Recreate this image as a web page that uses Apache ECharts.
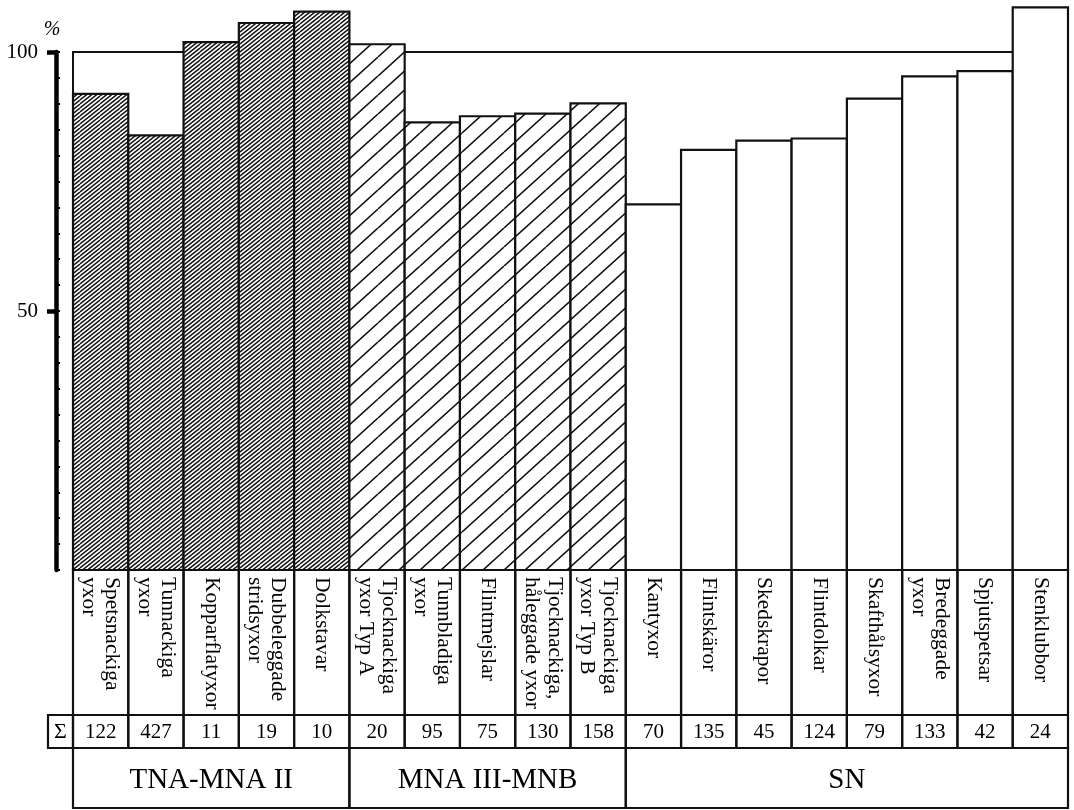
<!DOCTYPE html>
<html><head><meta charset="utf-8">
<script src="https://cdn.jsdelivr.net/npm/echarts@6/dist/echarts.min.js"></script>
<style>html,body{margin:0;padding:0;background:#fff}#c{width:1074px;height:810px}</style>
</head><body><div id="c"></div>
<script>
// ---- data ----
const categories = [
  'Spetsnackiga\nyxor', 'Tunnackiga\nyxor', 'Kopparflatyxor', 'Dubbeleggade\nstridsyxor', 'Dolkstavar',
  'Tjocknackiga\nyxor Typ A', 'Tunnbladiga\nyxor', 'Flintmejslar', 'Tjocknackiga,\nhåleggade yxor', 'Tjocknackiga\nyxor Typ B',
  'Kantyxor', 'Flintskäror', 'Skedskrapor', 'Flintdolkar', 'Skafthålsyxor', 'Bredeggade\nyxor', 'Spjutspetsar', 'Stenklubbor'
];
const percentValues = [91.9, 83.9, 101.9, 105.6, 107.8, 101.5, 86.4, 87.6, 88.1, 90.1, 70.6, 81.1, 82.9, 83.3, 91.0, 95.3, 96.3, 108.6];
const counts = [122, 427, 11, 19, 10, 20, 95, 75, 130, 158, 70, 135, 45, 124, 79, 133, 42, 24];
const groups = ['TNA-MNA II', 'MNA III-MNB', 'SN'];
const groupOf = [0,0,0,0,0, 1,1,1,1,1, 2,2,2,2,2,2,2,2];
const yLabelValues = [50, 100];
const sumSymbol = 'Σ';

// ---- layout constants (table rows, in table-axis units) ----
const ROW_LABEL_END = 145, ROW_SUM_END = 178, ROW_END = 238;
const FONT = '"Liberation Serif", "Times New Roman", serif';

function hatch(pw, ph, n, lw) {
  const c = document.createElement('canvas');
  const W = pw * n, H = ph * n;
  c.width = W; c.height = H;
  const g = c.getContext('2d');
  g.fillStyle = '#fff'; g.fillRect(0, 0, W, H);
  g.strokeStyle = '#111'; g.lineWidth = lw;
  g.beginPath();
  for (let k = -1; k <= 2 * n + 1; k++) {
    const y0 = k * ph;
    g.moveTo(0, y0); g.lineTo(W, y0 - H);
  }
  g.stroke();
  return c;
}
const groupFill = [
  { image: hatch(5, 4, 4, 1.5), repeat: 'repeat' },
  { image: hatch(21, 19, 2, 1.6), repeat: 'repeat' },
  '#ffffff'
];

const lineStyle = { stroke: '#111', lineWidth: 2.2, fill: 'none' };

function renderBar(params, api) {
  const i = api.value(0);
  const v = api.value(1);
  const w = api.size([1, 0])[0];
  const base = api.coord([i, 0]);
  const top = api.coord([i, v]);
  return { type: 'rect',
    shape: { x: base[0] - w / 2, y: top[1], width: w, height: base[1] - top[1] },
    style: { fill: groupFill[groupOf[i]], stroke: '#111', lineWidth: 2.2 } };
}

function renderCell(params, api) {
  const i = params.dataIndex;
  const p0 = api.coord([i, 0]);
  const w = api.size([1, 0])[0];
  const x0 = p0[0] - w / 2;
  const yA = p0[1];
  const yB = api.coord([i, ROW_LABEL_END])[1];
  const yC = api.coord([i, ROW_SUM_END])[1];
  const children = [
    { type: 'rect', shape: { x: x0, y: yA, width: w, height: yC - yA }, style: lineStyle },
    { type: 'line', shape: { x1: x0, y1: yB, x2: x0 + w, y2: yB }, style: lineStyle },
    { type: 'text', x: p0[0], y: yA + 7, rotation: -Math.PI / 2,
      style: { text: categories[i], font: '21.5px ' + FONT, lineHeight: 23, align: 'left', verticalAlign: 'middle', fill: '#000' } },
    { type: 'text', x: p0[0], y: (yB + yC) / 2 + 1,
      style: { text: String(counts[i]), font: '21px ' + FONT, align: 'center', verticalAlign: 'middle', fill: '#000' } }
  ];
  if (i === 0) {
    children.push({ type: 'rect', shape: { x: x0 - 25, y: yB, width: 25, height: yC - yB }, style: lineStyle });
    children.push({ type: 'text', x: x0 - 12.5, y: (yB + yC) / 2 + 1,
      style: { text: sumSymbol, font: '22px ' + FONT, align: 'center', verticalAlign: 'middle', fill: '#000' } });
  }
  return { type: 'group', children };
}

const groupSpans = groups.map((g, k) => {
  const idx = groupOf.map((v, i) => v === k ? i : -1).filter(i => i >= 0);
  return [idx[0], idx[idx.length - 1], ROW_SUM_END];
});

function renderGroup(params, api) {
  const k = params.dataIndex;
  const s = api.value(0), e = api.value(1);
  const w = api.size([1, 0])[0];
  const xs = api.coord([s, ROW_SUM_END])[0] - w / 2;
  const xe = api.coord([e, ROW_SUM_END])[0] + w / 2;
  const yT = api.coord([s, ROW_SUM_END])[1];
  const yE = api.coord([s, ROW_END])[1];
  return { type: 'group', children: [
    { type: 'rect', shape: { x: xs, y: yT, width: xe - xs, height: yE - yT }, style: lineStyle },
    { type: 'text', x: (xs + xe) / 2, y: (yT + yE) / 2 + 2,
      style: { text: groups[k], font: '29px ' + FONT, align: 'center', verticalAlign: 'middle', fill: '#000' } }
  ]};
}

const chart = echarts.init(document.getElementById('c'), null, { renderer: 'canvas' });
chart.setOption({
  animation: false,
  backgroundColor: '#fff',
  grid: [
    { left: 73, right: 6, top: 52, bottom: 240, show: true, borderColor: '#111', borderWidth: 2, backgroundColor: 'transparent' },
    { left: 73, right: 6, top: 570, bottom: 2 }
  ],
  xAxis: [
    { type: 'category', gridIndex: 0, data: categories, show: false },
    { type: 'category', gridIndex: 1, data: categories, show: false }
  ],
  yAxis: [
    { type: 'value', gridIndex: 0, min: 0, max: 100, interval: 50, position: 'left', offset: 17,
      name: '%', nameLocation: 'end', nameGap: 12,
      nameTextStyle: { fontFamily: FONT, fontStyle: 'italic', fontSize: 20, color: '#000', padding: [0, 8, 0, 0] },
      axisLine: { show: true, lineStyle: { color: '#000', width: 4.5 } },
      axisTick: { show: true, length: 9, customValues: yLabelValues, lineStyle: { color: '#000', width: 4.5 } },
      axisLabel: { customValues: yLabelValues, margin: 18, fontFamily: FONT, fontSize: 21, color: '#000' },
      splitLine: { show: false } },
    { type: 'value', gridIndex: 0, min: 0, max: 100, interval: 5, position: 'left', offset: 17,
      axisLine: { show: false },
      axisTick: { show: true, inside: true, length: 4, lineStyle: { color: '#000', width: 2 } },
      axisLabel: { show: false }, splitLine: { show: false } },
    { type: 'value', gridIndex: 1, min: 0, max: ROW_END, inverse: true, show: false }
  ],
  series: [
    { type: 'custom', xAxisIndex: 0, yAxisIndex: 0, renderItem: renderBar, clip: false,
      encode: { x: 0, y: 1 },
      data: percentValues.map((v, i) => [i, v]) },
    { type: 'custom', xAxisIndex: 1, yAxisIndex: 2, renderItem: renderCell,
      data: categories.map((c, i) => [i, 0]) },
    { type: 'custom', xAxisIndex: 1, yAxisIndex: 2, renderItem: renderGroup,
      data: groupSpans }
  ]
});
</script>
</body></html>
